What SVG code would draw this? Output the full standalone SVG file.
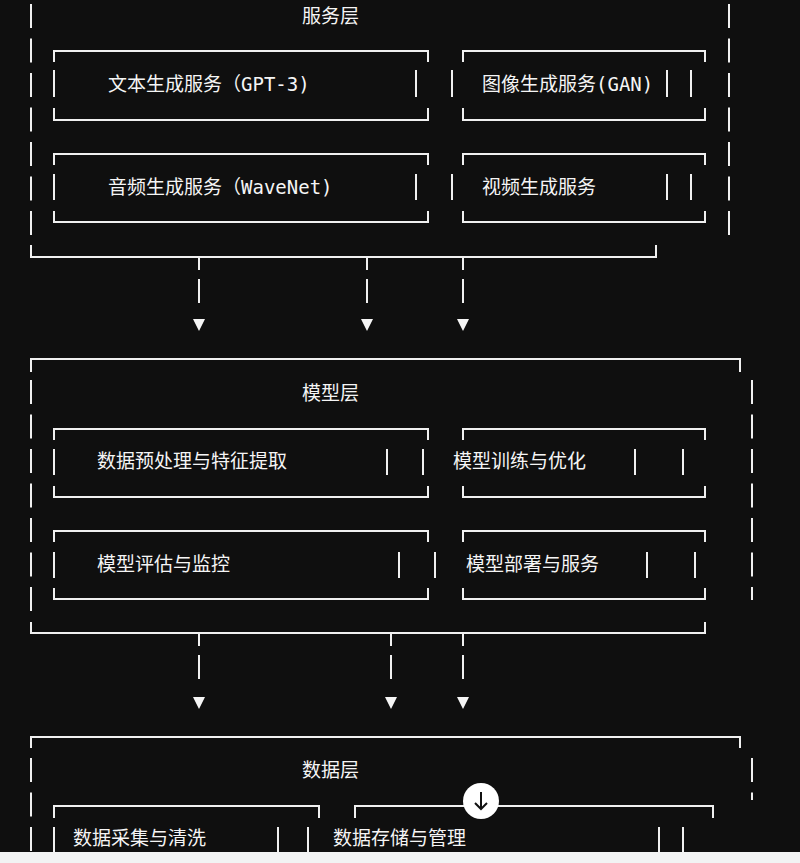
<svg xmlns="http://www.w3.org/2000/svg" width="800" height="863" viewBox="0 0 800 863">
<defs><style>
.l{stroke:#f0f0f0;stroke-width:2;fill:none}
.d{stroke:#f0f0f0;stroke-width:2;fill:none;stroke-dasharray:24 10.5}
text{fill:#f5f5f5;font-family:"DejaVu Sans Mono","Noto Sans CJK SC",monospace;font-size:19px}
.t{fill:#f5f5f5}
</style></defs>
<rect width="800" height="863" fill="#0f0f0f"/>
<g id="service-layer">
<path class="d" d="M31 4V235M729 4V235"/>
<path class="l" d="M31 245V257H656V245"/>
<text x="302" y="23">服务层</text>
<g id="text-gen"><path class="l" d="M54 62V51H428V62M54 108V120H428V108"/><path class="l" d="M54 70V97M416 70V97"/><text x="108" y="91">文本生成服务（GPT-3)</text></g>
<g id="image-gen"><path class="l" d="M463 62V51H705V62M463 108V120H705V108"/><path class="l" d="M452 70V97M667 70V97M691 70V97"/><text x="482" y="91">图像生成服务(GAN)</text></g>
<g id="audio-gen"><path class="l" d="M54 165V154H428V165M54 211V222H428V211"/><path class="l" d="M54 174V200M416 174V200"/><text x="108" y="194">音频生成服务（WaveNet)</text></g>
<g id="video-gen"><path class="l" d="M463 165V154H705V165M463 211V222H705V211"/><path class="l" d="M452 174V200M667 174V200M691 174V200"/><text x="482" y="194">视频生成服务</text></g>
</g>
<g id="model-layer">
<path class="l" d="M31 372V359H740V372"/>
<path class="d" d="M31 380V620M752 380V600"/>
<path class="l" d="M31 622V633H705V622"/>
<text x="302" y="400">模型层</text>
<g id="preprocess"><path class="l" d="M54 440V429H428V440M54 486V497H428V486"/><path class="l" d="M54 449V475M387 449V475M423 449V475"/><text x="97" y="468">数据预处理与特征提取</text></g>
<g id="train"><path class="l" d="M463 440V429H705V440M463 486V497H705V486"/><path class="l" d="M635 449V475M683 449V475"/><text x="453" y="468">模型训练与优化</text></g>
<g id="eval"><path class="l" d="M54 542V531H428V542M54 588V599H428V588"/><path class="l" d="M54 552V578M399 552V578M435 552V578"/><text x="97" y="571">模型评估与监控</text></g>
<g id="deploy"><path class="l" d="M463 542V531H705V542M463 588V599H705V588"/><path class="l" d="M647 552V578M695 552V578"/><text x="466" y="571">模型部署与服务</text></g>
</g>
<g id="data-layer">
<path class="l" d="M31 748V737H740V748"/>
<path class="d" d="M31 758V863M752 758V800"/>
<text x="302" y="777">数据层</text>
<g id="collect"><path class="l" d="M54 818V806H319V818"/><path class="l" d="M54 827V863M278 827V863M308 827V863"/><text x="73" y="845">数据采集与清洗</text></g>
<g id="storage"><path class="l" d="M355 818V806H713V818"/><path class="l" d="M659 827V863M683 827V863"/><text x="333" y="845">数据存储与管理</text></g>
</g>
<g id="connectors">
<path class="l" d="M199 258V270M199 279V303M367 258V270M367 279V303M463 258V270M463 279V303"/>
<path class="t" d="M193 319h12l-6 12zM361 319h12l-6 12zM457 319h12l-6 12z"/>
<path class="l" d="M199 634V646M199 655V679M391 634V646M391 655V679M463 634V646M463 655V679"/>
<path class="t" d="M193 697h12l-6 12zM385 697h12l-6 12zM457 697h12l-6 12z"/>
</g>
<g id="scroll-button"><circle cx="481" cy="801" r="18" fill="#ffffff"/><path d="M481 792V809M475 803L481 809L487 803" stroke="#111" stroke-width="2" fill="none"/></g>
<rect y="852" width="800" height="11" fill="#f2f3f3"/>
</svg>
